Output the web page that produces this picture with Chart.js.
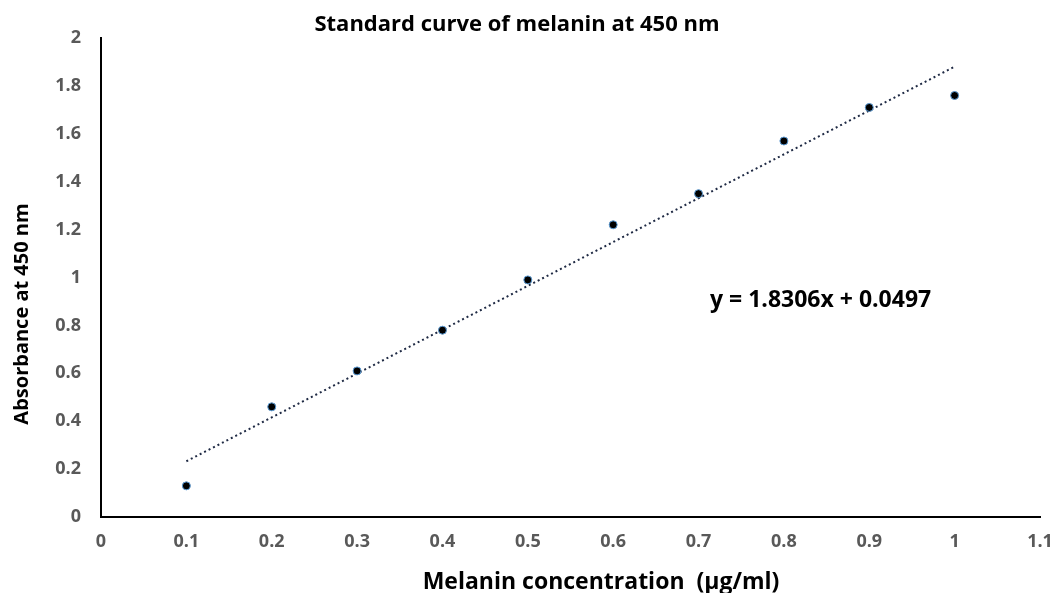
<!DOCTYPE html>
<html>
<head>
<meta charset="utf-8">
<script src="https://cdn.jsdelivr.net/npm/chart.js@4"></script>
<style>
  html, body { margin: 0; padding: 0; background: #fff; }
  #wrap { width: 1057px; height: 593px; }
</style>
</head>
<body>
<div id="wrap"><canvas id="melaninChart"></canvas></div>
<script>
// data
const concentrations = [0.1, 0.2, 0.3, 0.4, 0.5, 0.6, 0.7, 0.8, 0.9, 1.0];
const absorbance = [0.13, 0.46, 0.61, 0.78, 0.99, 1.22, 1.35, 1.57, 1.71, 1.76];
const xTickValues = [0, 0.1, 0.2, 0.3, 0.4, 0.5, 0.6, 0.7, 0.8, 0.9, 1, 1.1];
const yTickValues = [0, 0.2, 0.4, 0.6, 0.8, 1, 1.2, 1.4, 1.6, 1.8, 2];
const trendSlope = 1.8306;
const trendIntercept = 0.0497;

const fontFamily = "'Open Sans', 'Noto Sans', sans-serif";
const tickColor = '#595959';

const points = concentrations.map((x, i) => ({ x: x, y: absorbance[i] }));
const xFirst = concentrations[0];
const xLast = concentrations[concentrations.length - 1];
const trendPoints = [
    { x: xFirst, y: trendSlope * xFirst + trendIntercept },
    { x: xLast, y: trendSlope * xLast + trendIntercept }
];

// title, axis titles + equation label
const textPlugin = {
    id: 'extraText',
    afterDraw(chart) {
        const ctx = chart.ctx;
        const ys = chart.scales.y;
        ctx.save();
        ctx.fillStyle = '#000';
        ctx.textBaseline = 'middle';

        ctx.textAlign = 'center';
        ctx.font = 'bold 22px ' + fontFamily;
        ctx.fillText('Standard curve of melanin at 450 nm', 517, 25);

        ctx.textAlign = 'left';
        ctx.font = 'bold 23px ' + fontFamily;
        ctx.fillText('y = 1.8306x + 0.0497', 710, ys.getPixelForValue(0.906));

        ctx.textAlign = 'center';
        ctx.font = 'bold 23px ' + fontFamily;
        ctx.fillText('Melanin concentration  (\u00b5g/ml)', 601, 582);

        ctx.font = 'bold 20px ' + fontFamily;
        ctx.translate(22, 314);
        ctx.rotate(-Math.PI / 2);
        ctx.fillText('Absorbance at 450 nm', 0, 0);
        ctx.restore();
    }
};

const ctx = document.getElementById('melaninChart').getContext('2d');
new Chart(ctx, {
    type: 'scatter',
    data: {
        datasets: [
            {
                label: 'Absorbance',
                data: points,
                backgroundColor: '#000',
                borderColor: '#5b9bd5',
                borderWidth: 1,
                pointRadius: 4,
                order: 0
            },
            {
                type: 'line',
                label: 'Linear fit',
                data: trendPoints,
                borderColor: '#1f2a44',
                borderWidth: 2,
                borderDash: [2, 3],
                pointRadius: 0,
                fill: false,
                order: 1
            }
        ]
    },
    options: {
        responsive: true,
        maintainAspectRatio: false,
        animation: false,
        layout: { padding: { left: 0, right: 17, top: 38, bottom: 0 } },
        plugins: {
            legend: { display: false },
            tooltip: { enabled: false },
            title: { display: false }
        },
        scales: {
            x: {
                type: 'linear',
                min: 0,
                max: 1.1,
                afterBuildTicks: (scale) => { scale.ticks = xTickValues.map(v => ({ value: v })); },
                afterFit: (scale) => {
                    scale.height = 76;
                    scale.paddingRight = 0;
                    scale.paddingLeft = 0;
                },
                grid: { display: false, drawTicks: false },
                border: { display: true, color: '#000', width: 2 },
                ticks: {
                    color: tickColor,
                    padding: 14,
                    maxRotation: 0,
                    autoSkip: false,
                    font: { family: fontFamily, size: 18, weight: 'bold' },
                    callback: (v) => String(+v.toFixed(1))
                }
            },
            y: {
                type: 'linear',
                min: 0,
                max: 2,
                afterBuildTicks: (scale) => { scale.ticks = yTickValues.map(v => ({ value: v })); },
                afterFit: (scale) => { scale.width = 101; },
                grid: { display: false, drawTicks: false },
                border: { display: true, color: '#000', width: 2 },
                ticks: {
                    color: tickColor,
                    padding: 20,
                    autoSkip: false,
                    font: { family: fontFamily, size: 18, weight: 'bold' },
                    callback: (v) => String(+v.toFixed(1))
                }
            }
        }
    },
    plugins: [textPlugin]
});
</script>
</body>
</html>
